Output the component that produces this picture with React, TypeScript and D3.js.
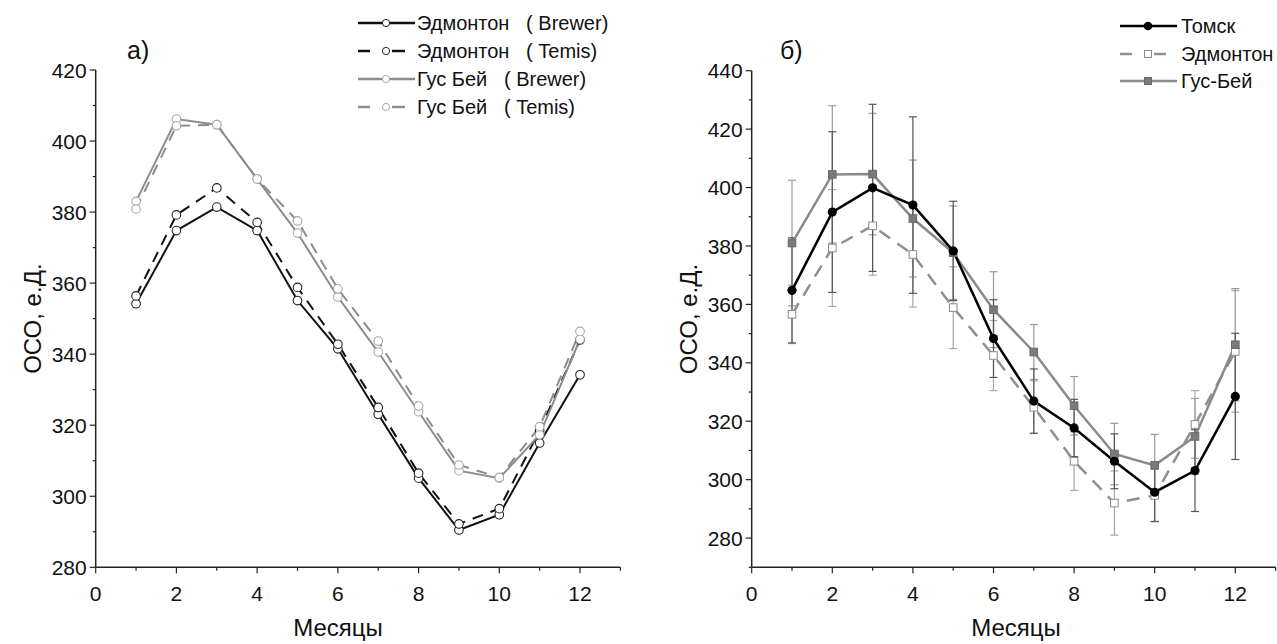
import React from "react";
import * as d3 from "d3";

const months = [1, 2, 3, 4, 5, 6, 7, 8, 9, 10, 11, 12];

// Panel a)
const edmBrewer = [354.2, 374.8, 381.4, 374.8, 355.1, 341.5, 323.1, 305.1, 290.5, 294.8, 315.0, 334.2];
const edmTemis = [356.4, 379.2, 386.8, 377.1, 358.8, 342.8, 325.0, 306.5, 292.2, 296.5, 318.5, 344.0];
const gbBrewer = [383.0, 406.2, 404.6, 389.3, 374.1, 356.1, 340.6, 323.8, 307.2, 305.1, 317.3, 344.2];
const gbTemis = [380.9, 404.3, 404.6, 389.3, 377.5, 358.4, 343.7, 325.4, 308.8, 305.3, 319.6, 346.4];

// Panel б)
const tomsk = [364.8, 391.6, 399.9, 394.0, 378.3, 348.3, 326.9, 317.7, 306.3, 295.7, 303.1, 328.5];
const tomskErr = [18, 27.5, 28.6, 30.2, 17, 13.3, 11, 9.8, 9.4, 10, 14, 21.6];
const edm = [356.6, 379.3, 386.9, 377.1, 358.9, 342.5, 324.8, 306.3, 292.0, 294.6, 318.9, 343.9];
const edmErr = [10, 20, 16.9, 18, 14, 12, 9, 10, 11, 9, 11.6, 20.8];
const gb = [381.0, 404.5, 404.6, 389.4, 377.7, 358.2, 343.7, 325.3, 308.8, 304.9, 314.8, 346.2];
const gbErr = [21.5, 23.5, 20.8, 20, 16, 13, 9.4, 10, 10.5, 10.6, 13, 19.2];

const legendA = ["Эдмонтон   ( Brewer)", "Эдмонтон   ( Temis)", "Гус Бей   ( Brewer)", "Гус Бей   ( Temis)"];
const legendB = ["Томск", "Эдмонтон", "Гус-Бей"];

const FONT = "'Liberation Sans', Arial, sans-serif";

function Axes({ x, y, xMax, yMin, yMax, yMajor, xTitleX, yTitleX, titleY }: any) {
  const x0 = x(0);
  const yb = y(yMin);
  const yAll = d3.range(Math.ceil(yMin / 10) * 10, yMax + 0.1, 10);
  const xAll = d3.range(0, xMax + 0.1, 1);
  return (
    <g fontFamily={FONT} fill="#111">
      <line x1={x0} x2={x0} y1={y(yMax)} y2={yb} stroke="#222" strokeWidth={1.5} />
      <line x1={x0} x2={x(xMax)} y1={yb} y2={yb} stroke="#222" strokeWidth={1.5} />
      {yAll.map((v) => {
        const major = (v - yMajor) % 20 === 0;
        return (
          <g key={"y" + v}>
            <line x1={x0 - (major ? 6 : 3)} x2={x0} y1={y(v)} y2={y(v)} stroke="#222" strokeWidth={1.2} />
            {major && (
              <text x={x0 - 9} y={y(v)} dy="0.36em" textAnchor="end" fontSize={21}>
                {v}
              </text>
            )}
          </g>
        );
      })}
      {xAll.map((v) => {
        const major = v % 2 === 0 && v <= 12;
        return (
          <g key={"x" + v}>
            <line x1={x(v)} x2={x(v)} y1={yb} y2={yb + (major ? 6 : 3.5)} stroke="#222" strokeWidth={1.2} />
            {major && (
              <text x={x(v)} y={yb + 26} dy="0.36em" textAnchor="middle" fontSize={21}>
                {v}
              </text>
            )}
          </g>
        );
      })}
      <text x={xTitleX} y={titleY} textAnchor="middle" fontSize={24}>
        Месяцы
      </text>
      <text
        transform={`translate(${yTitleX},${(y(yMax) + yb) / 2}) rotate(-90)`}
        textAnchor="middle"
        dy="0.36em"
        fontSize={24}
      >
        ОСО, е.Д.
      </text>
    </g>
  );
}

export default function App() {
  const xA = d3.scaleLinear().domain([0, 13]).range([95.7, 95.7 + 13 * 40.36]);
  const yA = d3.scaleLinear().domain([280, 420]).range([567.3, 70]);
  const xB = d3.scaleLinear().domain([0, 13]).range([751.7, 751.7 + 13 * 40.3]);
  const yB = d3.scaleLinear().domain([270, 440]).range([567.3, 70.7]);

  const lineA = d3.line<number>().x((_, i) => xA(months[i])).y((d) => yA(d));
  const lineB = d3.line<number>().x((_, i) => xB(months[i])).y((d) => yB(d));

  const seriesA = [
    { data: edmBrewer, stroke: "#111", dash: undefined, mStroke: "#222" },
    { data: edmTemis, stroke: "#111", dash: "11 8", mStroke: "#222" },
    { data: gbBrewer, stroke: "#8c8c8c", dash: undefined, mStroke: "#a8a8a8" },
    { data: gbTemis, stroke: "#8c8c8c", dash: "11 8", mStroke: "#a8a8a8" },
  ];

  const errSeries = [
    { data: gb, err: gbErr, color: "#9a9a9a" },
    { data: edm, err: edmErr, color: "#a8a8a8" },
    { data: tomsk, err: tomskErr, color: "#555" },
  ];

  const legAy = [23, 51, 79, 107];
  const legBy = [26, 54, 81];

  return (
    <svg width={1277} height={644} style={{ position: "absolute", left: 0, top: 0, background: "#fff" }}>
      <rect width={1277} height={644} fill="#fff" />
      {/* Panel a */}
      <Axes x={xA} y={yA} xMax={13} yMin={280} yMax={420} yMajor={280} xTitleX={338} yTitleX={32} titleY={636} />
      <text x={127} y={59} fontFamily={FONT} fontSize={25} fill="#111">а)</text>
      {seriesA.map((s, k) => (
        <path key={"la" + k} d={lineA(s.data) || ""} fill="none" stroke={s.stroke} strokeWidth={2} strokeDasharray={s.dash} />
      ))}
      {seriesA.map((s, k) => (
        <g key={"ma" + k}>
          {s.data.map((v, i) => (
            <circle key={i} cx={xA(months[i])} cy={yA(v)} r={4.3} fill="#fff" stroke={s.mStroke} strokeWidth={1.1} />
          ))}
        </g>
      ))}
      {/* Legend a */}
      <g fontFamily={FONT} fontSize={20} fill="#111">
        {seriesA.map((s, k) => (
          <g key={"lga" + k}>
            {s.dash ? (
              <>
                <line x1={358} x2={370} y1={legAy[k]} y2={legAy[k]} stroke={s.stroke} strokeWidth={2.5} />
                <line x1={392} x2={405} y1={legAy[k]} y2={legAy[k]} stroke={s.stroke} strokeWidth={2.5} />
              </>
            ) : (
              <line x1={358} x2={415} y1={legAy[k]} y2={legAy[k]} stroke={s.stroke} strokeWidth={2.5} />
            )}
            <circle cx={386} cy={legAy[k]} r={3.6} fill="#fff" stroke={s.mStroke} strokeWidth={1} />
            <text x={417} y={legAy[k]} dy="0.36em" style={{ whiteSpace: "pre" }}>
              {legendA[k]}
            </text>
          </g>
        ))}
      </g>

      {/* Panel b */}
      <Axes x={xB} y={yB} xMax={13} yMin={270} yMax={440} yMajor={280} xTitleX={1016} yTitleX={688} titleY={636} />
      <text x={780} y={59} fontFamily={FONT} fontSize={25} fill="#111">б)</text>
      {errSeries.map((s, k) => (
        <g key={"eb" + k} stroke={s.color} strokeWidth={1.2}>
          {s.data.map((v, i) => {
            const cx = xB(months[i]);
            const t = yB(v + s.err[i]);
            const b = yB(v - s.err[i]);
            return (
              <g key={i}>
                <line x1={cx} x2={cx} y1={t} y2={b} />
                <line x1={cx - 4} x2={cx + 4} y1={t} y2={t} />
                <line x1={cx - 4} x2={cx + 4} y1={b} y2={b} />
              </g>
            );
          })}
        </g>
      ))}
      <path d={lineB(edm) || ""} fill="none" stroke="#8f8f8f" strokeWidth={2.5} strokeDasharray="13 9" />
      <path d={lineB(gb) || ""} fill="none" stroke="#8a8a8a" strokeWidth={2.5} />
      <path d={lineB(tomsk) || ""} fill="none" stroke="#000" strokeWidth={2.5} />
      {edm.map((v, i) => (
        <rect key={"se" + i} x={xB(months[i]) - 3.8} y={yB(v) - 3.8} width={7.6} height={7.6} fill="#fff" stroke="#8a8a8a" strokeWidth={1} />
      ))}
      {gb.map((v, i) => (
        <rect key={"sg" + i} x={xB(months[i]) - 3.8} y={yB(v) - 3.8} width={7.6} height={7.6} fill="#7a7a7a" stroke="#6a6a6a" strokeWidth={1} />
      ))}
      {tomsk.map((v, i) => (
        <circle key={"ct" + i} cx={xB(months[i])} cy={yB(v)} r={4.6} fill="#000" />
      ))}
      {/* Legend b */}
      <g fontFamily={FONT} fontSize={20} fill="#111">
        <line x1={1120} x2={1177} y1={legBy[0]} y2={legBy[0]} stroke="#000" strokeWidth={2.5} />
        <circle cx={1148} cy={legBy[0]} r={4.3} fill="#000" />
        <text x={1181} y={legBy[0]} dy="0.36em">{legendB[0]}</text>

        <line x1={1120} x2={1132} y1={legBy[1]} y2={legBy[1]} stroke="#8f8f8f" strokeWidth={2.5} />
        <line x1={1154} x2={1166} y1={legBy[1]} y2={legBy[1]} stroke="#8f8f8f" strokeWidth={2.5} />
        <rect x={1144.5} y={legBy[1] - 3.5} width={7} height={7} fill="#fff" stroke="#8a8a8a" strokeWidth={1} />
        <text x={1181} y={legBy[1]} dy="0.36em">{legendB[1]}</text>

        <line x1={1120} x2={1177} y1={legBy[2]} y2={legBy[2]} stroke="#8a8a8a" strokeWidth={2.5} />
        <rect x={1144.5} y={legBy[2] - 3.5} width={7} height={7} fill="#7a7a7a" stroke="#6a6a6a" strokeWidth={1} />
        <text x={1181} y={legBy[2]} dy="0.36em">{legendB[2]}</text>
      </g>
    </svg>
  );
}
